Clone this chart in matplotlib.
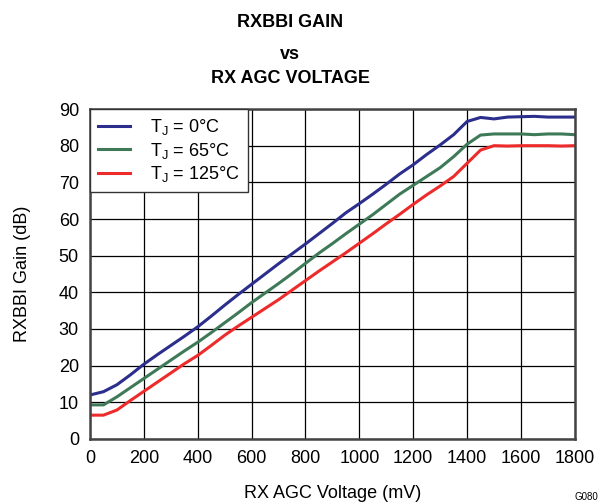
import numpy as np
import matplotlib.pyplot as plt

plt.rcParams['font.family'] = ['Liberation Sans', 'DejaVu Sans']

# RX AGC voltage (mV)
voltage = [0, 50, 100, 150, 200, 250, 300, 350, 400, 450, 500, 550, 600,
           650, 700, 750, 800, 850, 900, 950, 1000, 1050, 1100, 1150, 1200,
           1250, 1300, 1350, 1400, 1450, 1500, 1550, 1600, 1650, 1700, 1750, 1800]

# RXBBI gain (dB)
gain_0c = [12.0, 12.9, 14.8, 17.5, 20.4, 23.0, 25.5, 28.0, 30.6, 33.5, 36.5, 39.4, 42.2,
           45.0, 47.8, 50.5, 53.2, 56.0, 58.8, 61.7, 64.2, 66.8, 69.5, 72.3, 74.8,
           77.6, 80.2, 83.0, 86.6, 87.7, 87.3, 87.8, 87.9, 88.0, 87.8, 87.8, 87.8]
gain_65c = [9.3, 9.3, 11.5, 14.0, 16.5, 19.0, 21.5, 24.0, 26.4, 29.0, 31.7, 34.4, 37.2,
            39.8, 42.4, 45.1, 47.9, 50.7, 53.3, 56.0, 58.6, 61.2, 64.0, 66.8, 69.2,
            71.6, 74.0, 77.0, 80.4, 82.9, 83.2, 83.2, 83.2, 83.0, 83.2, 83.2, 83.0]
gain_125c = [6.5, 6.5, 7.9, 10.5, 13.0, 15.5, 18.0, 20.5, 22.8, 25.5, 28.3, 30.8, 33.2,
             35.6, 38.0, 40.6, 43.2, 45.8, 48.3, 50.8, 53.4, 56.0, 58.7, 61.3, 64.0,
             66.6, 69.0, 71.6, 75.2, 78.8, 80.0, 79.9, 80.0, 80.0, 80.0, 79.9, 80.0]

labels = ['T$_\\mathregular{J}$ = 0°C', 'T$_\\mathregular{J}$ = 65°C', 'T$_\\mathregular{J}$ = 125°C']
colors = ['#2b2e8c', '#3e7a58', '#ee2b2b']

fig = plt.figure(figsize=(6.07, 5.04), dpi=100)
ax = fig.add_axes([0.1483, 0.129, 0.7987, 0.6547])

for g, lab, c in zip([gain_0c, gain_65c, gain_125c], labels, colors):
    ax.plot(voltage, g, color=c, linewidth=2.2, label=lab)

ax.set_xlim(0, 1800)
ax.set_ylim(0, 90)
ax.set_xticks(np.arange(0, 1801, 200))
ax.set_yticks(np.arange(0, 91, 10))
ax.grid(True, color='black', linewidth=0.9)
ax.tick_params(length=0, labelsize=13, pad=8)
for s in ax.spines.values():
    s.set_linewidth(1.8)
    s.set_color('#444444')

ax.set_xlabel('RX AGC Voltage (mV)', fontsize=13, labelpad=13)
ax.set_ylabel('RXBBI Gain (dB)', fontsize=13, labelpad=20)

leg = ax.legend(loc='upper left', fontsize=13, fancybox=False, borderaxespad=0,
                handlelength=1.75, handletextpad=1.1, labelspacing=0.2,
                borderpad=0.45, framealpha=1)
leg.get_frame().set_edgecolor('#333333')
leg.get_frame().set_linewidth(1.0)

fig.text(0.478, 0.956, 'RXBBI GAIN', ha='center', va='center', fontsize=13, fontweight='bold')
fig.text(0.478, 0.892, 'vs', ha='center', va='center', fontsize=13, fontweight='bold')
fig.text(0.478, 0.845, 'RX AGC VOLTAGE', ha='center', va='center', fontsize=13, fontweight='bold')
fig.text(0.946, 0.004, 'G080', ha='left', va='bottom', fontsize=7)

fig.savefig('out.png', dpi=100)
